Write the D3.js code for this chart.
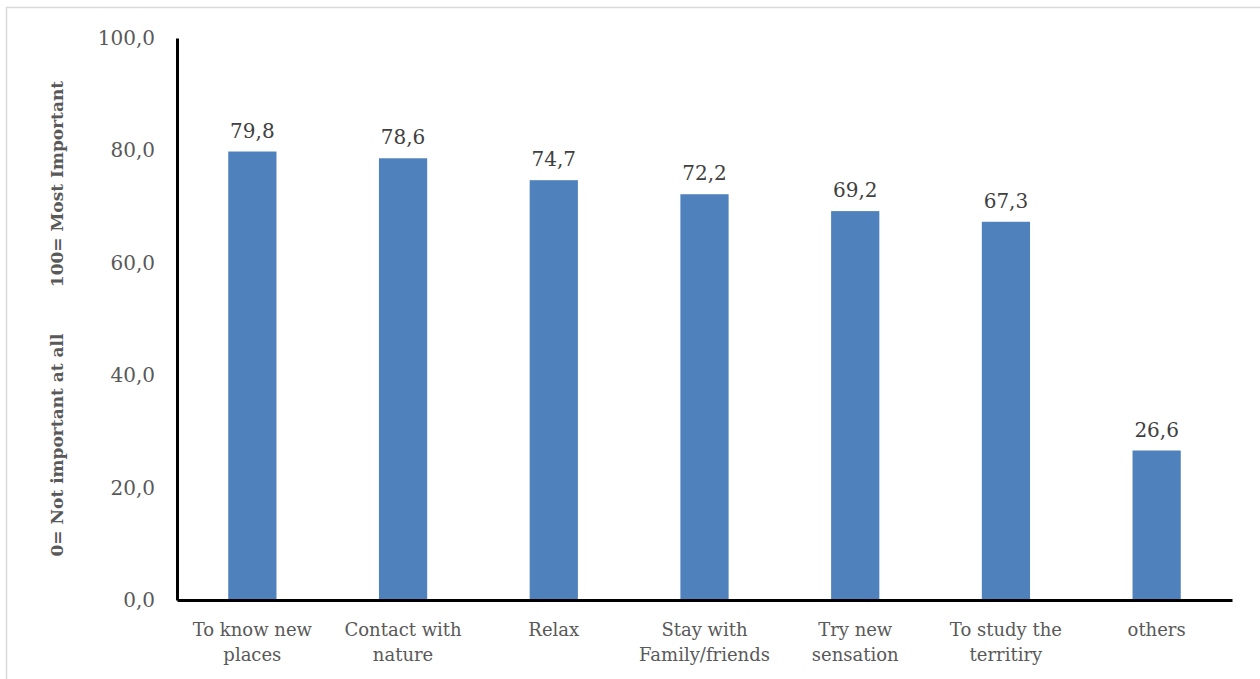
<!DOCTYPE html>
<html>
<head>
<meta charset="utf-8">
<script src="https://cdn.jsdelivr.net/npm/d3@7"></script>
<style>
  html, body { margin: 0; padding: 0; background: #fff; }
  svg { display: block; }
  text { font-family: "DejaVu Serif", "Liberation Serif", serif; }
</style>
</head>
<body>
<svg id="chart" width="1260" height="679"></svg>
<script>
// Motivation scores (0 = not important at all, 100 = most important)
const categories = [
  ["To know new", "places"],
  ["Contact with", "nature"],
  ["Relax"],
  ["Stay with", "Family/friends"],
  ["Try new", "sensation"],
  ["To study the", "territiry"],
  ["others"]
];
const values = [79.8, 78.6, 74.7, 72.2, 69.2, 67.3, 26.6];
const yTicks = [0, 20, 40, 60, 80, 100];
const yTitleTop = "100= Most Important";
const yTitleBottom = "0= Not important at all";

const svg = d3.select("#chart");
const W = 1260, H = 679;
const margin = { left: 177, right: 28, top: 38, bottom: 79 };

// Outer frame (only top and left edges fall inside the view)
svg.append("rect")
  .attr("x", 6.5).attr("y", 7.5)
  .attr("width", W + 10).attr("height", H + 10)
  .attr("fill", "none").attr("stroke", "#d9d9d9").attr("stroke-width", 1.5);

const fmt = v => d3.format(".1f")(v).replace(".", ",");

const x = d3.scaleBand()
  .domain(d3.range(categories.length))
  .range([margin.left, W - margin.right])
  .paddingInner(0.68)
  .paddingOuter(0.34);

const y = d3.scaleLinear()
  .domain([0, 100])
  .range([H - margin.bottom, margin.top]);

// Bars
svg.append("g").selectAll("rect")
  .data(values)
  .join("rect")
  .attr("x", (d, i) => x(i))
  .attr("y", d => y(d))
  .attr("width", x.bandwidth())
  .attr("height", d => y(0) - y(d))
  .attr("fill", "#4f81bd");

// Value labels
svg.append("g").selectAll("text")
  .data(values)
  .join("text")
  .attr("x", (d, i) => x(i) + x.bandwidth() / 2)
  .attr("y", d => y(d) - 14)
  .attr("text-anchor", "middle")
  .attr("font-size", 20)
  .attr("fill", "#404040")
  .text(d => fmt(d));

// Y axis
const yAxis = svg.append("g")
  .attr("transform", `translate(${margin.left},0)`)
  .call(d3.axisLeft(y).tickValues(yTicks).tickSize(0).tickPadding(22).tickFormat(fmt));
yAxis.select(".domain").attr("stroke", "#000").attr("stroke-width", 3);
yAxis.selectAll("text")
  .attr("font-size", 20)
  .attr("fill", "#595959")
  .attr("font-family", "DejaVu Serif, serif");

// X axis
const xAxis = svg.append("g")
  .attr("transform", `translate(0,${y(0)})`)
  .call(d3.axisBottom(x).tickSize(0).tickFormat(""));
xAxis.select(".domain").attr("stroke", "#000").attr("stroke-width", 3);

// Category labels (wrapped onto two lines)
const catG = svg.append("g").selectAll("text")
  .data(categories)
  .join("text")
  .attr("x", (d, i) => x(i) + x.bandwidth() / 2)
  .attr("y", y(0) + 36)
  .attr("text-anchor", "middle")
  .attr("font-size", 18)
  .attr("fill", "#595959");
catG.selectAll("tspan")
  .data(d => d)
  .join("tspan")
  .attr("x", function () { return d3.select(this.parentNode).attr("x"); })
  .attr("dy", (d, i) => i === 0 ? 0 : 25)
  .text(d => d);

// Y axis title
const titleX = 57;
[[yTitleTop, 184], [yTitleBottom, 445]].forEach(([t, cy]) => {
  svg.append("text")
    .attr("transform", `translate(${titleX + 6},${cy}) rotate(-90)`)
    .attr("text-anchor", "middle")
    .attr("font-size", 17)
    .attr("font-weight", "bold")
    .attr("fill", "#595959")
    .text(t);
});
</script>
</body>
</html>
